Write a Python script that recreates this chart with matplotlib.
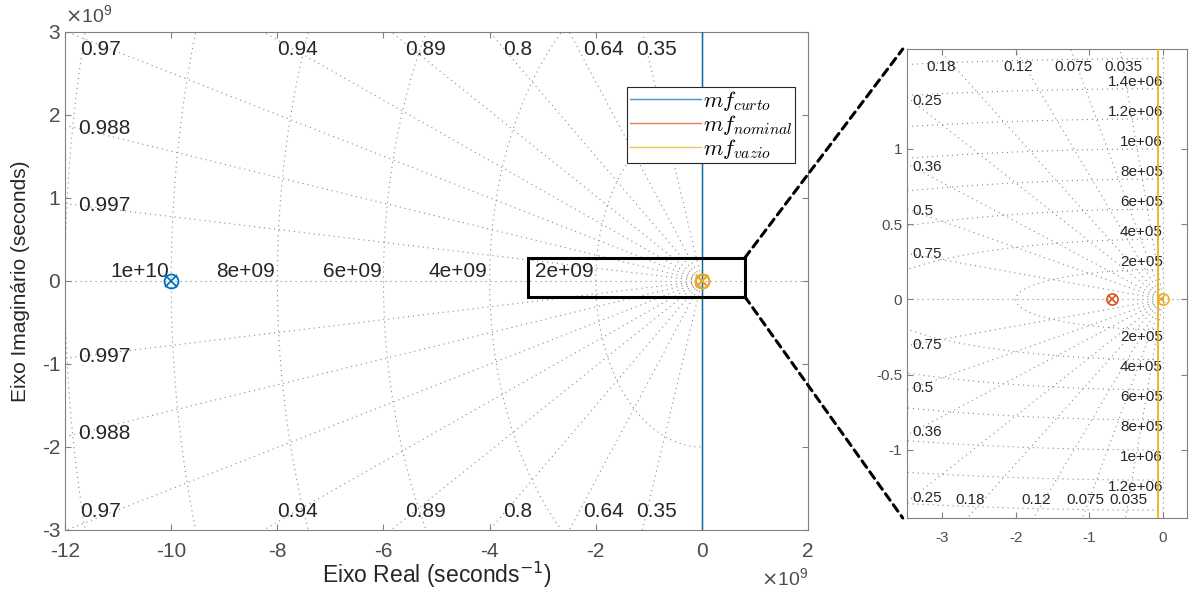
import numpy as np
import matplotlib
matplotlib.use('Agg')
import matplotlib.pyplot as plt
from matplotlib.lines import Line2D
from matplotlib.patches import Rectangle, ConnectionPatch
from matplotlib.ticker import FuncFormatter, MultipleLocator, FixedLocator

plt.rcParams['font.family'] = ['Liberation Sans', 'DejaVu Sans']

# sistemas em malha fechada (polos e zeros em s^-1)
sistemas = ['curto', 'nominal', 'vazio']
cores = ['#0072BD', '#D95319', '#EDB120']
polos = [-1.0e10, -6.9e4, -3.0e3]
zeros = [-1.0e10, -6.9e4, 0.0]
# ramo vertical do lugar das raizes (None = fora da janela)
ramo_x = [0.0, None, -7.0e3]

# grade s (amortecimento / frequencia natural)
zeta_geral = [0.35, 0.64, 0.8, 0.89, 0.94, 0.97, 0.988, 0.997]
wn_geral = [2e9, 4e9, 6e9, 8e9, 1e10, 1.2e10]
zeta_zoom = [0.035, 0.075, 0.12, 0.18, 0.25, 0.36, 0.5, 0.75]
wn_zoom = [2e5, 4e5, 6e5, 8e5, 1e6, 1.2e6, 1.4e6, 1.6e6]

# limites
xlim_geral = (-12e9, 2e9)
ylim_geral = (-3e9, 3e9)
xlim_zoom = (-3.475e5, 0.326e5)
ylim_zoom = (-1.452e6, 1.664e6)
janela_x = (-3.28e9, 0.81e9)
janela_y = (-0.19e9, 0.28e9)

CINZA = '#8a8a8a'
TXT = '#262626'


def sgrid(ax, zetas, wns, xlim, ylim, fs, dx_esq, ha_topo, dx_topo,
          margem=None, wn_no_eixo_imag=False):
    fig = ax.figure
    fig.canvas.draw()
    rend = fig.canvas.get_renderer()
    bb = ax.get_window_extent()
    px_x = (xlim[1] - xlim[0]) / bb.width
    px_y = (ylim[1] - ylim[0]) / bb.height
    kw = dict(color=CINZA, lw=0.8, dashes=(1, 3.5), zorder=1)
    ax.plot(xlim, [0, 0], **kw)
    ax.plot([0, 0], ylim, **kw)
    x_orig = ax.transData.transform((0, 0))[0]
    for z in zetas:
        s = np.sqrt(1 - z**2)
        for sg, ylimite in ((1, ylim[1]), (-1, ylim[0])):
            t = min(xlim[0] / -z, abs(ylimite) / s)
            ax.plot([0, -z * t], [0, sg * s * t], **kw)
            if abs(ylimite) / s < xlim[0] / -z:
                # rotulo junto a borda superior/inferior
                yl = ylimite - sg * 18 * px_y
                xl = -abs(ylimite) * z / s + dx_topo * px_x
                txt = ax.text(xl, yl, '%.3g' % z, ha=ha_topo, va='center',
                              fontsize=fs, color=TXT, zorder=3)
                if margem is not None:
                    ext = txt.get_window_extent(renderer=rend)
                    folga = ext.x1 - (x_orig - margem)
                    if folga > 0:
                        txt.set_x(xl - folga * px_x)
            else:
                xl = xlim[0] + dx_esq * px_x
                yl = sg * abs(xl) * s / z
                ax.text(xl, yl, '%.3g' % z, ha='left', va='center',
                        fontsize=fs, color=TXT, zorder=3)
    th = np.linspace(np.pi / 2, 3 * np.pi / 2, 400)
    for w in wns:
        ax.plot(w * np.cos(th), w * np.sin(th), **kw)
        lab = '%.2g' % w
        if wn_no_eixo_imag:
            if w + 14 * px_y < ylim[1]:
                ax.text(0, w, lab, ha='right', va='bottom', fontsize=fs,
                        color=TXT, zorder=3)
            if -w - 14 * px_y > ylim[0]:
                ax.text(0, -w, lab, ha='right', va='top', fontsize=fs,
                        color=TXT, zorder=3)
        elif -w > xlim[0]:
            ax.text(-w - 2 * px_x, 0, lab, ha='right', va='bottom',
                    fontsize=fs, color=TXT, zorder=3)


def estilo(ax, fs, padx):
    for sp in ax.spines.values():
        sp.set_color('#808080')
        sp.set_linewidth(0.8)
    ax.tick_params(direction='in', top=True, right=True, length=4.5,
                   width=0.8, color='#808080', labelsize=fs,
                   labelcolor='#4d4d4d')
    ax.tick_params(axis='x', pad=padx)


fig = plt.figure(figsize=(11.89, 5.90), dpi=100)
ax = fig.add_axes([0.0547, 0.1017, 0.6249, 0.8441])
ax_z = fig.add_axes([0.7628, 0.1220, 0.2355, 0.7949])

# mapa geral
ax.set_xlim(xlim_geral)
ax.set_ylim(ylim_geral)
ax.xaxis.set_major_locator(MultipleLocator(2e9))
ax.yaxis.set_major_locator(MultipleLocator(1e9))
ax.xaxis.set_major_formatter(FuncFormatter(lambda v, p: '%g' % round(v / 1e9, 6)))
ax.yaxis.set_major_formatter(FuncFormatter(lambda v, p: '%g' % round(v / 1e9, 6)))
estilo(ax, 15, 9)
sgrid(ax, zeta_geral, wn_geral, xlim_geral, ylim_geral, 15, 13, 'left', 14,
      margem=25)

for nome, c, xr in zip(sistemas, cores, ramo_x):
    if xr is not None:
        z = 4 if nome == 'curto' else 2
        ax.plot([xr, xr], ylim_geral, color=c, lw=1.0, zorder=z)
for p, zz, c in zip(polos, zeros, cores):
    ax.plot(p, 0, 'x', color=c, ms=8, mew=1.3, zorder=5)
    ax.plot(zz, 0, 'o', color=c, ms=10, mew=1.3, mfc='none', zorder=5)

ax.add_patch(Rectangle((janela_x[0], janela_y[0]), janela_x[1] - janela_x[0],
                       janela_y[1] - janela_y[0], fill=False, ec='black',
                       lw=2.2, zorder=6))

ax.set_xlabel('Eixo Real (seconds$^{-1}$)', fontsize=16.5, color=TXT)
ax.xaxis.label.set_va('center')
ax.xaxis.set_label_coords(0.5, -0.09)
ax.set_ylabel('Eixo Imaginário (seconds)', fontsize=15, color=TXT)
ax.yaxis.label.set_va('center')
ax.yaxis.set_label_coords(-0.0606, 0.5)
ax.text(0.0, 1.012, r'$\times\mathregular{10^{9}}$', transform=ax.transAxes,
        ha='left', va='bottom', fontsize=14, color='#4d4d4d')
ax.text(1.0, -0.096, r'$\times\mathregular{10^{9}}$', transform=ax.transAxes,
        ha='right', va='center', fontsize=14, color='#4d4d4d')

handles = [Line2D([], [], color=c, lw=1.0, alpha=0.75) for c in cores]
rotulos = [r'$mf_{%s}$' % n for n in sistemas]
leg = ax.legend(handles, rotulos, loc='upper right',
                bbox_to_anchor=(0.9825, 0.8896), borderaxespad=0,
                prop={'size': 16, 'math_fontfamily': 'cm'}, handlelength=3.2,
                handletextpad=0.1, labelspacing=0.0, borderpad=0.1,
                fancybox=False, framealpha=1, edgecolor='#262626')
leg.get_frame().set_linewidth(0.8)
leg.set_zorder(7)

# detalhe proximo da origem
ax_z.set_xlim(xlim_zoom)
ax_z.set_ylim(ylim_zoom)
ax_z.xaxis.set_major_locator(MultipleLocator(1e5))
ax_z.yaxis.set_major_locator(FixedLocator([-1e6, -0.5e6, 0, 0.5e6, 1e6]))
ax_z.xaxis.set_major_formatter(FuncFormatter(lambda v, p: '%g' % round(v / 1e5, 6)))
ax_z.yaxis.set_major_formatter(FuncFormatter(lambda v, p: '%g' % round(v / 1e6, 6)))
estilo(ax_z, 11, 9)
sgrid(ax_z, zeta_zoom, wn_zoom, xlim_zoom, ylim_zoom, 11, 5, 'center', 3,
      wn_no_eixo_imag=True)

for nome, c, xr in zip(sistemas, cores, ramo_x):
    if xr is not None and nome != 'curto':
        ax_z.plot([xr, xr], ylim_zoom, color=c, lw=1.3, zorder=4)
for p, zz, c in zip(polos, zeros, cores):
    ax_z.plot(p, 0, 'x', color=c, ms=6, mew=1.2, zorder=5)
    ax_z.plot(zz, 0, 'o', color=c, ms=8, mew=1.2, mfc='none', zorder=5)

# ligacao entre a janela e o detalhe
for yj, yf in ((janela_y[1], 1.0), (janela_y[0], 0.0)):
    con = ConnectionPatch(xyA=(janela_x[1], yj), coordsA=ax.transData,
                          xyB=(-0.015, yf), coordsB=ax_z.transAxes,
                          color='black', lw=2.2, linestyle=(0, (2.6, 1.8)))
    fig.add_artist(con)

fig.savefig('out.png', dpi=100)
